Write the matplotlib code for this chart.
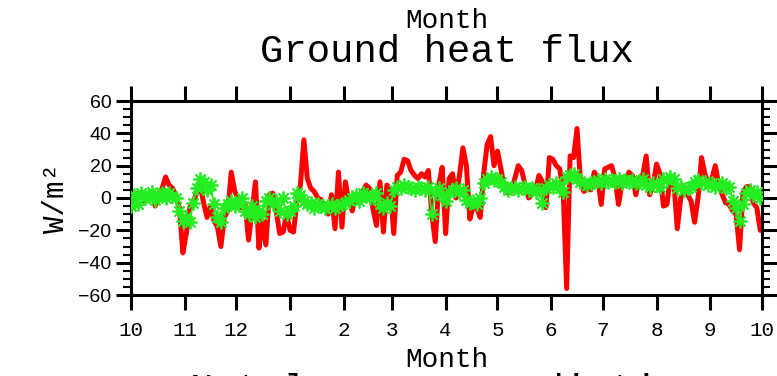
import matplotlib
matplotlib.use("Agg")
import matplotlib.pyplot as plt
import numpy as np

# Daily series sampled every second day, starting 1 October
days = np.arange(0, 365, 2)

# Modelled ground heat flux (W/m2)
model_flux = [
    -3, 0, 3, 1, -2, 2, 4, -5, 3, 6, 13, 8, 6, 2, -6, -34, -22, -6, -2, 3,
    8, -3, -12, -5, -14, -18, -30, -12, -8, 16, 4, 0, -6, -4, -26, -8, 10, -31, -14, -29,
    2, 3, -8, -22, -21, -10, -20, -21, -2, 8, 36, 12, 6, 4, 0, -1, -6, -10, 2, -19,
    16, -18, 10, -2, -8, 2, -2, 4, 8, 6, -7, -17, 10, -21, 8, 6, -22, 14, 16, 24,
    23, 17, 14, 12, 15, 13, 17, -10, -27, 8, 19, -22, 12, 15, 0, 14, 31, 20, -13, -5,
    -6, -12, 15, 33, 38, 20, 29, 18, 6, 3, 4, 12, 20, 17, 8, 0, 2, 5, 14, 10,
    -6, 25, 24, 20, 18, 4, -56, 26, 25, 43, 10, 4, 6, 5, 16, 12, -4, 18, 19, 20,
    12, -4, 9, 8, 16, 14, 2, 12, 14, 26, 2, 8, 21, 15, -5, -4, 13, 10, -19, 0,
    4, 2, -2, -15, 0, 25, 15, 8, 12, 20, 8, 2, -3, -4, -8, -10, -32, 3, 7, 7,
    -3, -6, -20,
]

# Observed ground heat flux (W/m2)
obs_flux = [
    -5, 2, -4, 3, 0, 1, 4, -1, 2, 3, 0, 3, 1, 0, -8, -14, -12, -15, -3, 6,
    12, 10, 5, 8, -4, -12, -15, -6, -4, -2, -5, -3, 0, -8, -10, -5, -12, -8, -10, -2,
    0, -4, -2, -8, 0, -10, -8, -5, 3, 2, -2, -4, -3, -6, -4, -5, -6, -5, -4, -6,
    -5, -4, -3, -1, 0, 2, -2, 3, 2, 0, 1, 3, -4, -6, -3, -5, 5, 7, 6, 8,
    7, 6, 5, 7, 6, 5, 7, -10, 3, 6, 2, -2, 4, 5, 6, 4, 5, -1, -3, -2,
    -4, 0, 9, 12, 13, 11, 12, 10, 7, 5, 6, 7, 5, 6, 7, 5, 6, 4, 5, -3,
    6, 8, 7, 9, 6, 4, 13, 14, 15, 12, 10, 9, 8, 9, 10, 11, 9, 12, 10, 11,
    10, 12, 9, 11, 10, 11, 9, 10, 12, 8, 7, 9, 8, 7, 12, 11, 13, 12, 6, 7,
    5, 6, 7, 10, 11, 9, 10, 8, 9, 7, 8, 9, 6, 7, -2, -6, -14, -4, 3, 5,
    2, 4, 0,
]

# Day offsets of the first of each month, Oct to Oct
month_starts = [0, 31, 61, 92, 123, 151, 182, 212, 243, 273, 304, 335, 365]
month_labels = ["10", "11", "12", "1", "2", "3", "4", "5", "6", "7", "8", "9", "10"]

serif = "Liberation Mono"
sans = "Liberation Sans"

fig = plt.figure(figsize=(7.77, 3.76), dpi=100)
ax = fig.add_axes([131 / 777, 1 - 295 / 376, 631 / 777, 194 / 376])

ax.plot(days, model_flux, color="#ff0000", lw=3.6,
        solid_joinstyle="round", solid_capstyle="round", zorder=2)
ax.plot(days, obs_flux, color="#22ee22", lw=1.2, marker=(8, 2, 0),
        ms=10, mew=1.3, zorder=3)

ax.set_xlim(0, 365)
ax.set_ylim(-60, 60)

ax.set_xticks(month_starts)
ax.set_xticklabels(month_labels, fontfamily=serif, fontsize=15)
ax.set_yticks(np.arange(-60, 61, 20))
ax.set_yticks(np.arange(-60, 61, 5), minor=True)
for lbl in ax.get_yticklabels():
    lbl.set_fontfamily(sans)
    lbl.set_fontsize(14)

for sp in ax.spines.values():
    sp.set_linewidth(2.2)

ax.tick_params(axis="x", which="major", direction="out", top=True, bottom=True,
               length=11, width=2.2, pad=8, labeltop=False)
ax.tick_params(axis="y", which="major", direction="out", left=True, right=True,
               length=11, width=2.2, pad=3, labelright=False)
ax.tick_params(axis="y", which="minor", direction="out", left=True, right=True,
               length=6, width=1.5)

ax.set_ylabel("W/m²", fontfamily=serif, fontsize=21, labelpad=6)
ax.set_xlabel("Month", fontfamily=serif, fontsize=20, labelpad=5)

fig.text(0.575, 1 - 28 / 376, "Month", ha="center", va="baseline",
         fontfamily=serif, fontsize=20)
fig.text(0.575, 1 - 62 / 376, "Ground heat flux", ha="center", va="baseline",
         fontfamily=serif, fontsize=28)
# title of the panel below, mostly outside the canvas
fig.text(0.575, 1 - 401 / 376, "Net longwave radiation", ha="center",
         va="baseline", fontfamily=serif, fontsize=28)

fig.savefig("out.png", dpi=100)
